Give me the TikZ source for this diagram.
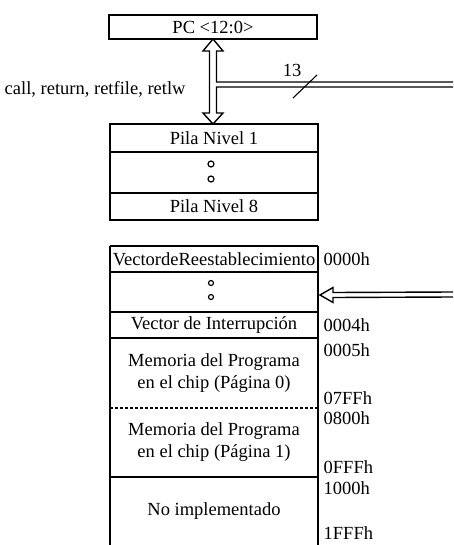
\documentclass[tikz,border=0pt]{standalone}
\usepackage{fontspec}
\setmainfont{Liberation Serif}
\usetikzlibrary{calc}
\begin{document}
\begin{tikzpicture}[x=1pt,y=-1pt, line width=1.4pt,
  txt/.style={font=\fontsize{18.5}{22}\selectfont},
  box/.style={txt, draw, minimum width=208pt, inner sep=0pt, outer sep=0pt},
  cell/.style={txt, minimum width=208pt, inner sep=0pt, outer sep=0pt, align=center},
  lab/.style={txt, anchor=west, inner sep=0pt},
  ring/.style={circle, draw, line width=1.2pt, minimum size=6pt, inner sep=0pt}]
\useasboundingbox (0,0) rectangle (453,545);

% PC
\node[box, minimum height=24pt] (pc) at (213,27) {PC <12:0>};

% stack
\node[box, minimum height=28pt] (s1) at (214,138) {Pila Nivel 1};
\node[box, minimum height=41pt] (s2) at (214,172.5) {};
\node[box, minimum height=27pt] (s3) at (214,206.5) {Pila Nivel 8};
\node[ring] (d1) at (211,164) {};
\node[ring] (d2) at (211,179) {};

% double arrow with bus branch
\coordinate (t) at (pc.south);
\coordinate (b) at ($(s1.north)+(-1,0)$);
\coordinate (bus) at (453,84.5);
\draw[line join=miter] ($(bus)+(0,-2.5)$) -| ($(t)+(3.5,12)$) -- ++(6.5,0) -- (t) -- ++(-10,12) -- ++(6.5,0)
  -- ($(b)+(-3.5,-11)$) -- ++(-6.5,0) -- (b) -- ++(10,-11) -- ++(-6.5,0) |- ($(bus)+(0,2.5)$);
\coordinate (sl1) at (293,98);
\coordinate (sl2) at (317,75);
\draw[line width=1.1pt] (sl1) -- (sl2);
\node[txt, inner sep=0pt] (n13) at (292,70) {13};
\node[txt, anchor=west, inner sep=0pt] (calls) at (4,89) {call, return, retfile, retlw};

% memory
\node[cell, minimum height=26pt] (m0) at (214,259) {VectordeReestablecimiento};
\node[cell, minimum height=40pt] (m1) at (214,292) {};
\node[ring, minimum size=5pt] (e1) at (211,283) {};
\node[ring, minimum size=5pt] (e2) at (211,297) {};
\node[cell, minimum height=26pt] (m2) at (214,325) {Vector de Interrupción};
\node[cell, minimum height=70pt] (m3) at (214,373) {Memoria del Programa\\en el chip (Página 0)};
\node[cell, minimum height=69pt] (m4) at (214,442.5) {Memoria del Programa\\en el chip (Página 1)};
\node[cell, minimum height=69pt] (m5) at (214,511.5) {No implementado};

\draw (m0.north west) -- (m0.north east);
\draw (m1.north west) -- (m1.north east);
\draw (m2.north west) -- (m2.north east);
\draw (m3.north west) -- (m3.north east);
\draw[line width=1.1pt, dash pattern=on 3pt off 2pt] (m4.north west) -- (m4.north east);
\draw (m5.north west) -- (m5.north east);
\draw (m0.north west) -- (m5.south west);
\draw (m0.north east) -- (m5.south east);

% input arrow
\coordinate (bus2) at (453,294.5);
\coordinate (tip) at (320,295);
\draw[line join=miter] ($(bus2)+(0,-2.5)$) -- ($(tip)+(13,-2.5)$) -- ($(tip)+(13,-7.5)$) -- (tip)
  -- ($(tip)+(13,7.5)$) -- ($(tip)+(13,2.5)$) -- ($(bus2)+(0,2.5)$);

% addresses
\node[lab] (a0) at (323,259) {0000h};
\node[lab] (a1) at (323,325) {0004h};
\node[lab] (a2) at (323,350) {0005h};
\node[lab] (a3) at (323,398) {07FFh};
\node[lab] (a4) at (323,418) {0800h};
\node[lab] (a5) at (323,467) {0FFFh};
\node[lab] (a6) at (323,488) {1000h};
\node[lab] (a7) at (323,533) {1FFFh};
\end{tikzpicture}
\end{document}
